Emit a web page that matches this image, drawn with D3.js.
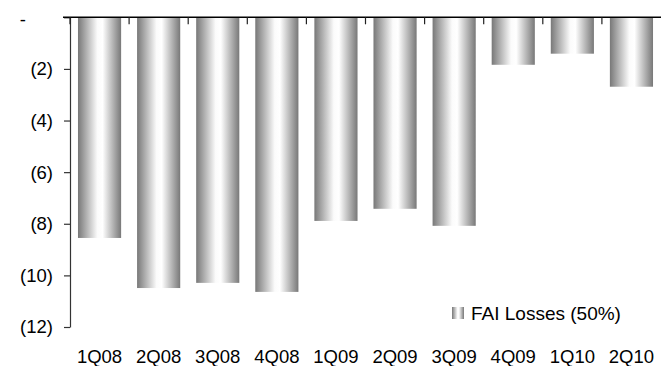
<!DOCTYPE html>
<html>
<head>
<meta charset="utf-8">
<script src="https://cdn.jsdelivr.net/npm/d3@7"></script>
<style>
  html, body { margin: 0; padding: 0; background: #fff; }
  svg text { font-family: "Liberation Sans", Arial, sans-serif; fill: #000; }
</style>
</head>
<body>
<svg id="chart" width="661" height="366"></svg>
<script>
// Quarterly FAI losses (50% share), in negative units
const quarters = ["1Q08", "2Q08", "3Q08", "4Q08", "1Q09", "2Q09", "3Q09", "4Q09", "1Q10", "2Q10"];
const faiLosses = [-8.55, -10.49, -10.29, -10.64, -7.89, -7.42, -8.08, -1.84, -1.41, -2.69];
const yTicks = [0, -2, -4, -6, -8, -10, -12];
const seriesName = "FAI Losses (50%)";

const svg = d3.select("#chart");
const plotLeft = 70, plotRight = 661, plotTop = 17.3, plotBottom = 327;

const x = d3.scaleBand().domain(quarters).range([plotLeft, plotRight])
  .paddingInner(0.27).paddingOuter(0.135);
const y = d3.scaleLinear().domain([-12, 0]).range([plotBottom, plotTop]);

// horizontal cylinder-like shading
const defs = svg.append("defs");
const grad = defs.append("linearGradient").attr("id", "barShade")
  .attr("x1", "0%").attr("x2", "100%").attr("y1", "0%").attr("y2", "0%");
[["0%", "#787878"], ["45%", "#fbfbfb"], ["57%", "#ffffff"], ["100%", "#787878"]]
  .forEach(([o, c]) => grad.append("stop").attr("offset", o).attr("stop-color", c));

// bars
svg.append("g").selectAll("rect").data(quarters).join("rect")
  .attr("x", d => x(d))
  .attr("width", x.bandwidth())
  .attr("y", y(0))
  .attr("height", (d, i) => y(faiLosses[i]) - y(0))
  .attr("fill", "url(#barShade)");

// y axis
const fmt = v => v === 0 ? "-" : `(${Math.abs(v)})`;
const yAxis = svg.append("g").attr("transform", `translate(${plotLeft},0)`)
  .call(d3.axisLeft(y).tickValues(yTicks).tickFormat(fmt).tickSize(6).tickSizeOuter(0).tickPadding(11));
yAxis.select(".domain").attr("stroke", "#333").attr("stroke-width", 1.2);
yAxis.selectAll(".tick line").attr("stroke", "#333").attr("stroke-width", 1.2);
yAxis.selectAll(".tick text").style("font-size", "18.5px").attr("fill", "#000");
yAxis.selectAll(".tick").filter(d => d === 0).select("text").attr("x", -44).attr("dy", "0.42em");

// x axis along the zero line, with ticks at category boundaries
const step = x.step();
const boundaries = d3.range(quarters.length).map(i => x(quarters[i]) - x.paddingOuter() * step);
const xg = svg.append("g");
xg.append("line").attr("x1", plotLeft - 7).attr("x2", plotRight).attr("y1", plotTop).attr("y2", plotTop)
  .attr("stroke", "#000").attr("stroke-width", 1.4);
xg.selectAll("line.tk").data(boundaries).join("line").attr("class", "tk")
  .attr("x1", d => d).attr("x2", d => d).attr("y1", plotTop).attr("y2", plotTop + 7)
  .attr("stroke", "#222").attr("stroke-width", 1.2);

// category labels below the plot
svg.append("g").selectAll("text").data(quarters).join("text")
  .attr("x", d => x(d) + x.bandwidth() / 2)
  .attr("y", 362.5)
  .attr("text-anchor", "middle")
  .style("font-size", "18.5px")
  .text(d => d);

// legend
const lg = svg.append("g").attr("transform", "translate(452,307)");
lg.append("rect").attr("width", 12).attr("height", 12).attr("fill", "url(#barShade)");
lg.append("text").attr("x", 19).attr("y", 12.5).style("font-size", "19px").text(seriesName);
</script>
</body>
</html>
